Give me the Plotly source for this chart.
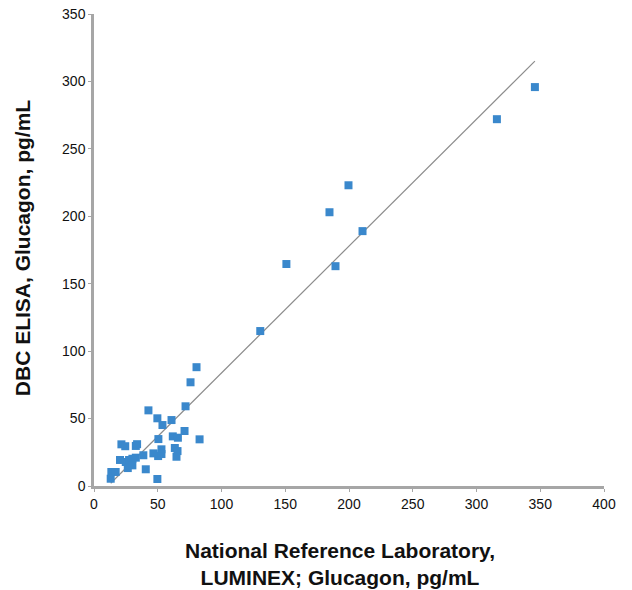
import plotly.graph_objects as go
import numpy as np

# National Reference Laboratory (LUMINEX) glucagon, pg/mL
x_nrl = [345.8, 316.0, 199.6, 184.7, 210.6, 150.9, 189.4, 130.4, 80.4, 75.7,
         71.8, 42.7, 49.7, 60.8, 53.7, 71.0, 82.8, 61.8, 65.8, 50.5,
         63.4, 65.5, 64.7, 52.9, 52.9, 50.3, 46.6, 38.7, 49.7,
         21.5, 24.5, 32.8, 33.8, 20.4, 24.9, 27.5, 30.1, 32.8, 26.5,
         30.1, 40.6, 13.6, 17.0, 13.1]
# DBC ELISA glucagon, pg/mL
y_dbc = [295.8, 272.0, 223.0, 203.0, 189.0, 164.6, 163.0, 114.9, 88.1, 76.9,
         59.1, 56.1, 50.2, 48.9, 45.2, 40.8, 34.6, 36.8, 35.8, 34.8,
         28.2, 25.9, 21.7, 27.2, 23.7, 22.2, 24.2, 22.8, 5.2,
         30.9, 29.5, 29.7, 31.0, 19.3, 17.8, 19.3, 20.2, 21.0, 13.3,
         15.3, 12.4, 10.4, 10.4, 5.4]

# linear trendline parameters
trend_slope = 0.941
trend_intercept = -10.3

x_ticks = [0, 50, 100, 150, 200, 250, 300, 350, 400]
y_ticks = [0, 50, 100, 150, 200, 250, 300, 350]

x_title = "<b>National Reference Laboratory,<br>LUMINEX; Glucagon, pg/mL</b>"
y_title = "<b>DBC ELISA, Glucagon, pg/mL</b>"

tx = np.array([min(x_nrl), max(x_nrl)])
ty = trend_slope * tx + trend_intercept

fig = go.Figure()
fig.add_trace(go.Scatter(x=tx, y=ty, mode="lines",
                         line=dict(color="#8c8c8c", width=1.2),
                         hoverinfo="skip", showlegend=False))
fig.add_trace(go.Scatter(x=x_nrl, y=y_dbc, mode="markers",
                         marker=dict(symbol="square", size=8, color="#3a88cc"),
                         cliponaxis=False, showlegend=False))

font_ticks = dict(family="Liberation Sans, Arial, sans-serif", size=14, color="#111111")
font_title = dict(family="Liberation Sans, Arial, sans-serif", size=21, color="#111111")

fig.update_layout(
    width=632, height=590,
    margin=dict(l=94, r=28, t=14, b=104, autoexpand=False),
    paper_bgcolor="white", plot_bgcolor="white",
    xaxis=dict(range=[0, 400], tickvals=x_ticks, ticktext=[str(v) for v in x_ticks],
               showgrid=False, zeroline=False, showline=True, linecolor="#a6a6a6",
               linewidth=2.5, ticks="outside", ticklen=3, tickcolor="#a6a6a6",
               tickfont=font_ticks, automargin=False, ticklabeloverflow="allow"),
    yaxis=dict(range=[0, 350], tickvals=y_ticks, ticktext=[str(v) for v in y_ticks],
               showgrid=False, zeroline=False, showline=True, linecolor="#a6a6a6",
               linewidth=2.5, ticks="outside", ticklen=3, tickcolor="#a6a6a6",
               tickfont=font_ticks, automargin=False, ticklabeloverflow="allow"),
    annotations=[
        dict(text=x_title, xref="paper", yref="paper", x=0.482, y=-0.1663,
             xanchor="center", yanchor="middle", showarrow=False, font=font_title),
        dict(text=y_title, xref="paper", yref="paper", x=-0.1412, y=0.506,
             xanchor="center", yanchor="middle", textangle=-90, showarrow=False,
             font=font_title),
    ],
)

fig.write_html("out.html", config={"displayModeBar": False},
               post_script="document.body.style.margin='0';")
